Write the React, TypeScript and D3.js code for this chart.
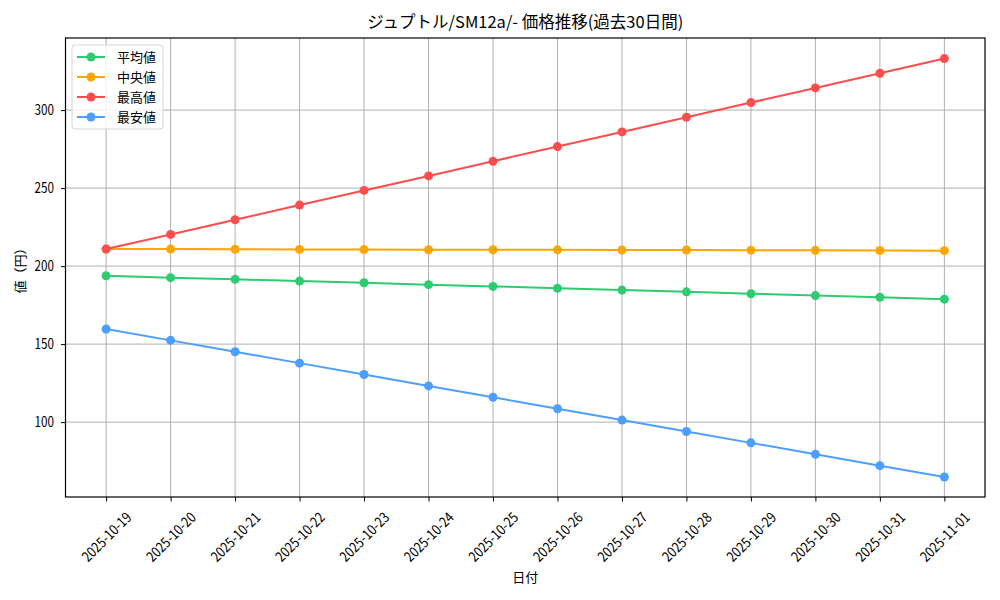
import React, { useEffect, useRef } from "react";
import * as d3 from "d3";

const dates = [
  "2025-10-19", "2025-10-20", "2025-10-21", "2025-10-22", "2025-10-23",
  "2025-10-24", "2025-10-25", "2025-10-26", "2025-10-27", "2025-10-28",
  "2025-10-29", "2025-10-30", "2025-10-31", "2025-11-01",
];
const meanValues = [193.8, 192.6, 191.5, 190.4, 189.3, 188.1, 187.0, 185.8, 184.6, 183.5, 182.3, 181.1, 180.0, 178.8];
const medianValues = [211.0, 210.9, 210.8, 210.7, 210.6, 210.5, 210.5, 210.4, 210.3, 210.3, 210.2, 210.1, 210.0, 209.9];
const maxValues = [210.9, 220.3, 229.7, 239.1, 248.5, 257.8, 267.2, 276.6, 286.0, 295.4, 304.8, 314.2, 323.6, 333.0];
const minValues = [159.7, 152.4, 145.1, 137.8, 130.5, 123.2, 115.9, 108.6, 101.3, 94.0, 86.7, 79.4, 72.1, 64.8];
const yTicks = [100, 150, 200, 250, 300];

const series = [
  { name: "平均値", color: "#2ecc71", values: meanValues },
  { name: "中央値", color: "#ffa500", values: medianValues },
  { name: "最高値", color: "#ff4d4d", values: maxValues },
  { name: "最安値", color: "#4d9fff", values: minValues },
];

const FONT = "'Noto Sans CJK JP', 'DejaVu Sans', sans-serif";

export default function App() {
  const svgRef = useRef<SVGSVGElement>(null);

  useEffect(() => {
    if (!svgRef.current) return;
    const width = 1000;
    const height = 600;
    const marginLeft = 65.5;
    const marginRight = 15;
    const marginTop = 38;
    const marginBottom = 103;

    const svg = d3.select(svgRef.current);
    svg.selectAll("*").remove();
    svg.attr("width", width).attr("height", height).attr("viewBox", [0, 0, width, height]);
    svg.append("rect").attr("width", width).attr("height", height).attr("fill", "white");

    const x = d3.scalePoint<string>()
      .domain(dates)
      .range([marginLeft, width - marginRight])
      .padding(0.63);

    const y = d3.scaleLinear()
      .domain([52, 346.2])
      .range([height - marginBottom, marginTop]);

    // grid
    const grid = svg.append("g").attr("stroke", "#b0b0b0").attr("stroke-width", 1);
    grid.selectAll("line.v").data(dates).join("line")
      .attr("x1", d => x(d)!).attr("x2", d => x(d)!)
      .attr("y1", marginTop).attr("y2", height - marginBottom);
    grid.selectAll("line.h").data(yTicks).join("line")
      .attr("x1", marginLeft).attr("x2", width - marginRight)
      .attr("y1", d => y(d)).attr("y2", d => y(d));

    // lines
    const line = d3.line<number>()
      .x((_, i) => x(dates[i])!)
      .y(d => y(d));

    series.forEach(s => {
      const g = svg.append("g");
      g.append("path")
        .attr("d", line(s.values))
        .attr("fill", "none")
        .attr("stroke", s.color)
        .attr("stroke-width", 2);
      g.selectAll("circle").data(s.values).join("circle")
        .attr("cx", (_, i) => x(dates[i])!)
        .attr("cy", d => y(d))
        .attr("r", 4.5)
        .attr("fill", s.color);
    });

    // frame
    svg.append("rect")
      .attr("x", marginLeft).attr("y", marginTop)
      .attr("width", width - marginRight - marginLeft)
      .attr("height", height - marginBottom - marginTop)
      .attr("fill", "none").attr("stroke", "black").attr("stroke-width", 1.2);

    // x axis (labels rotated 45deg, centred on tick like matplotlib ha=center)
    const xAxis = svg.append("g")
      .attr("transform", `translate(0,${height - marginBottom})`)
      .call(d3.axisBottom(x).tickSize(4.5).tickPadding(4));
    xAxis.select(".domain").remove();
    xAxis.selectAll("text")
      .attr("font-family", FONT)
      .attr("font-size", 14.5)
      .attr("fill", "black")
      .attr("text-anchor", "middle")
      .attr("y", 0)
      .attr("dy", "0.35em")
      .attr("textLength", 63)
      .attr("lengthAdjust", "spacingAndGlyphs")
      .attr("transform", "translate(0,40) rotate(-45)");

    // y axis
    const yAxis = svg.append("g")
      .attr("transform", `translate(${marginLeft},0)`)
      .call(d3.axisLeft(y).tickValues(yTicks).tickSize(4.5).tickPadding(7));
    yAxis.select(".domain").remove();
    yAxis.selectAll("text")
      .attr("font-family", FONT)
      .attr("font-size", 14.5)
      .attr("fill", "black")
      .attr("textLength", 19.5)
      .attr("lengthAdjust", "spacingAndGlyphs");

    // labels
    svg.append("text")
      .attr("x", (marginLeft + width - marginRight) / 2)
      .attr("y", 582)
      .attr("text-anchor", "middle")
      .attr("font-family", FONT)
      .attr("font-size", 13)
      .text("日付");

    svg.append("text")
      .attr("transform", `translate(25,${(marginTop + height - marginBottom) / 2}) rotate(-90)`)
      .attr("text-anchor", "middle")
      .attr("font-family", FONT)
      .attr("font-size", 13)
      .text("値（円）");

    svg.append("text")
      .attr("x", (marginLeft + width - marginRight) / 2)
      .attr("y", 28)
      .attr("text-anchor", "middle")
      .attr("font-family", FONT)
      .attr("font-size", 16.5)
      .text("ジュプトル/SM12a/- 価格推移(過去30日間)");

    // legend
    const legend = svg.append("g").attr("transform", "translate(72,45)");
    legend.append("rect")
      .attr("width", 91).attr("height", 84)
      .attr("rx", 3)
      .attr("fill", "white").attr("fill-opacity", 0.8)
      .attr("stroke", "#d5d5d5");
    series.forEach((s, i) => {
      const row = legend.append("g").attr("transform", `translate(0,${12 + i * 20})`);
      row.append("line")
        .attr("x1", 5).attr("x2", 33)
        .attr("stroke", s.color).attr("stroke-width", 2);
      row.append("circle").attr("cx", 19).attr("r", 4.5).attr("fill", s.color);
      row.append("text")
        .attr("x", 45).attr("dy", "0.35em")
        .attr("font-family", FONT)
        .attr("font-size", 13)
        .text(s.name);
    });
  }, []);

  return <svg ref={svgRef} style={{ display: "block", position: "absolute", left: 0, top: 0 }} />;
}
